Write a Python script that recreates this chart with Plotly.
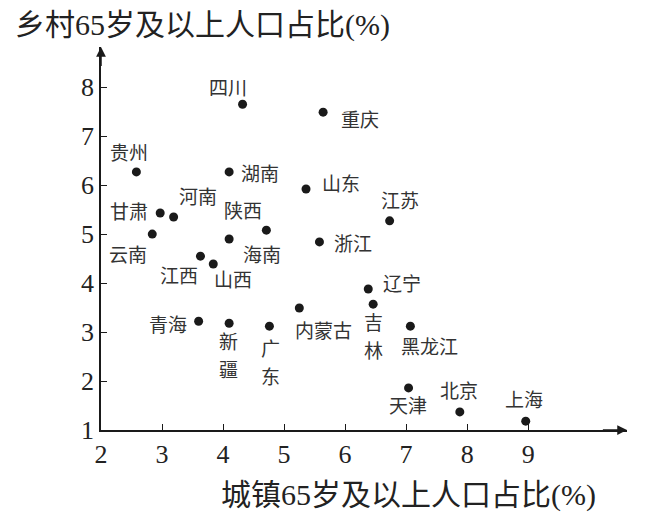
import plotly.graph_objects as go

# provinces, urban vs rural share of population aged 65+ (%)
provinces = ['四川', '重庆', '贵州', '湖南', '山东', '甘肃', '河南', '陕西',
             '云南', '海南', '浙江', '江苏', '江西', '山西', '辽宁', '吉林',
             '内蒙古', '青海', '新疆', '广东', '黑龙江', '天津', '北京', '上海']
urban = [4.32, 5.64, 2.58, 4.10, 5.36, 2.97, 3.19, 4.71,
         2.84, 4.10, 5.58, 6.73, 3.63, 3.84, 6.38, 6.46,
         5.25, 3.60, 4.10, 4.76, 7.07, 7.04, 7.88, 8.96]
rural = [7.65, 7.49, 6.27, 6.27, 5.92, 5.43, 5.35, 5.08,
         5.00, 4.90, 4.84, 5.27, 4.55, 4.39, 3.88, 3.57,
         3.49, 3.22, 3.18, 3.12, 3.12, 1.86, 1.37, 1.18]

x_ticks = [2, 3, 4, 5, 6, 7, 8, 9]
y_ticks = [1, 2, 3, 4, 5, 6, 7, 8]

# label placement next to each dot, in pixels (dx right, dy down)
label_offsets = {
    '四川': (-15, -16), '重庆': (37, 8), '贵州': (-7, -18), '湖南': (31, 3),
    '山东': (35, -5), '甘肃': (-31, -1), '河南': (24, -19), '陕西': (-23, -19),
    '云南': (-24, 21), '海南': (33, 17), '浙江': (34, 3), '江苏': (10, -19),
    '江西': (-21, 20), '山西': (20, 17), '辽宁': (34, -4), '吉林': (0, 19),
    '内蒙古': (24, 23), '青海': (-31, 4), '新疆': (-1, 19), '广东': (1, 23),
    '黑龙江': (19, 21), '天津': (-1, 19), '北京': (-1, -20), '上海': (-2, -21),
}
# these names are written top to bottom, one character per line
vertical = {'吉林', '新疆', '广东'}
CHAR_STEP = 28

FONT = 'Liberation Serif, Noto Sans CJK SC'
INK = '#1a1a1a'

fig = go.Figure()

fig.add_trace(go.Scatter(x=urban, y=rural, mode='markers',
                         marker=dict(size=9, color=INK),
                         hoverinfo='text', text=provinces,
                         showlegend=False, cliponaxis=False))

annotations = []
for name, xv, yv in zip(provinces, urban, rural):
    dx, dy = label_offsets[name]
    parts = list(name) if name in vertical else [name]
    for i, part in enumerate(parts):
        annotations.append(dict(x=xv, y=yv, xref='x', yref='y', text=part,
                                showarrow=False, xshift=dx,
                                yshift=-(dy + i * CHAR_STEP),
                                font=dict(family=FONT, size=19, color='#333333')))

# arrow heads on both axes
annotations.append(dict(x=10.62, y=1, ax=10.2, ay=1, xref='x', yref='y',
                        axref='x', ayref='y', text='', showarrow=True,
                        arrowhead=2, arrowsize=1.3, arrowwidth=1.5,
                        arrowcolor=INK))
annotations.append(dict(x=2, y=8.82, ax=2, ay=8.4, xref='x', yref='y',
                        axref='x', ayref='y', text='', showarrow=True,
                        arrowhead=2, arrowsize=1.3, arrowwidth=1.5,
                        arrowcolor=INK))

# axis titles
annotations.append(dict(x=-0.167, y=1.058, xref='paper', yref='paper',
                        xanchor='left', yanchor='middle',
                        text='乡村65岁及以上人口占比(%)', showarrow=False,
                        font=dict(family=FONT, size=30, color='#222222')))
annotations.append(dict(x=0.585, y=-0.17, xref='paper', yref='paper',
                        xanchor='center', yanchor='middle',
                        text='城镇65岁及以上人口占比(%)', showarrow=False,
                        font=dict(family=FONT, size=30, color='#222222')))

# page body adds an 8px offset, so the figure is trimmed by that much
fig.update_layout(
    width=650, height=506,
    margin=dict(l=93, r=31, t=39, b=84),
    plot_bgcolor='white', paper_bgcolor='white',
    annotations=annotations,
    xaxis=dict(range=[2, 10.62], tickvals=x_ticks, showgrid=False,
               zeroline=False, showline=True, linecolor=INK, linewidth=1.5,
               ticks='inside', ticklen=6, tickwidth=1.2, tickcolor=INK,
               tickfont=dict(family='Liberation Serif', size=26, color='#222222')),
    yaxis=dict(range=[1, 8.82], tickvals=y_ticks, showgrid=False,
               zeroline=False, showline=True, linecolor=INK, linewidth=1.5,
               ticks='inside', ticklen=6, tickwidth=1.2, tickcolor=INK,
               tickfont=dict(family='Liberation Serif', size=26, color='#222222')),
)

fig.write_html("out.html")
